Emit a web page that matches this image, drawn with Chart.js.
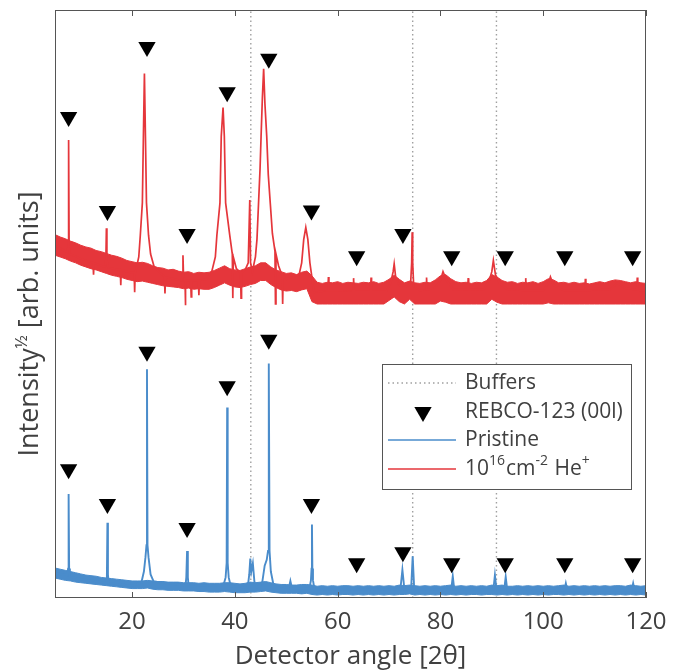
<!DOCTYPE html>
<html>
<head>
<meta charset="utf-8">
<script src="https://cdn.jsdelivr.net/npm/chart.js@4.4.0/dist/chart.umd.min.js"></script>
<style>
  html, body { margin: 0; padding: 0; background: #fff; }
</style>
</head>
<body>
<canvas id="xrd" width="678" height="672"></canvas>
<script>
// x ticks shown on the axis
const xTicks = [20, 40, 60, 80, 100, 120]

// buffer layer reflections (dotted lines)
const bufferAngles = [43.1, 74.6, 90.9]

// REBCO-123 (00l) markers: angle, height above irradiated trace, height above pristine trace
const rebcoAngles = [7.65, 15.2, 22.9, 30.7, 38.5, 46.6, 54.9, 63.7, 72.7, 82.2, 92.6, 104.2, 117.4]
const rebcoIrradiated = [81.8, 65.8, 93.7, 61.9, 86.0, 91.7, 65.9, 58.1, 61.9, 58.1, 58.1, 58.1, 58.1]
const rebcoPristine = [21.9, 16.0, 41.9, 11.9, 36.0, 43.9, 16.0, 5.9, 7.8, 5.9, 5.9, 5.9, 5.9]

// noise band grid (1 deg)
const noiseAngles = [
  5, 6, 7, 8, 9, 10, 11, 12, 13, 14,
  15, 16, 17, 18, 19, 20, 21, 22, 23, 24,
  25, 26, 27, 28, 29, 30, 31, 32, 33, 34,
  35, 36, 37, 38, 39, 40, 41, 42, 43, 44,
  45, 46, 47, 48, 49, 50, 51, 52, 53, 54,
  55, 56, 57, 58, 59, 60, 61, 62, 63, 64,
  65, 66, 67, 68, 69, 70, 71, 72, 73, 74,
  75, 76, 77, 78, 79, 80, 81, 82, 83, 84,
  85, 86, 87, 88, 89, 90, 91, 92, 93, 94,
  95, 96, 97, 98, 99, 100, 101, 102, 103, 104,
  105, 106, 107, 108, 109, 110, 111, 112, 113, 114,
  115, 116, 117, 118, 119, 120
]

// 10^16 cm^-2 He+ : upper / lower edge of the noise band
const irradiatedHigh = [
  61.8, 61.4, 61.1, 60.7, 60.4, 60.0, 59.7, 59.5, 59.1, 58.9,
  58.6, 58.3, 58.1, 57.8, 57.4, 57.2, 57.0, 57.1, 56.9, 56.5,
  56.2, 56.1, 55.8, 55.9, 55.6, 55.4, 55.5, 55.2, 55.4, 55.3,
  55.4, 55.7, 56.1, 56.5, 56.0, 55.8, 55.7, 56.0, 56.3, 56.5,
  57.0, 57.0, 56.3, 55.8, 55.5, 55.2, 55.3, 55.0, 55.4, 55.6,
  54.8, 53.7, 53.5, 53.7, 53.6, 53.8, 53.5, 53.7, 53.6, 53.5,
  53.7, 53.6, 53.8, 53.5, 53.7, 54.2, 54.9, 54.2, 53.6, 53.9,
  53.6, 53.5, 53.7, 53.6, 54.1, 54.8, 55.0, 54.3, 53.8, 53.6,
  53.7, 53.5, 53.7, 53.6, 54.0, 55.0, 54.6, 54.0, 53.7, 53.8,
  53.5, 53.7, 53.6, 53.8, 53.5, 53.8, 54.3, 54.1, 53.6, 53.7,
  53.5, 53.7, 53.5, 53.6, 53.4, 53.6, 53.8, 53.6, 53.9, 54.1,
  54.0, 53.8, 53.6, 53.8, 53.6, 53.5
]
const irradiatedLow = [
  58.3, 58.0, 57.7, 57.3, 57.0, 56.6, 56.3, 56.0, 55.8, 55.5,
  55.2, 54.9, 54.7, 54.5, 54.2, 54.0, 53.8, 53.9, 53.7, 53.5,
  53.3, 53.1, 53.0, 52.9, 52.8, 52.6, 52.7, 52.5, 52.6, 52.5,
  52.5, 52.8, 53.2, 53.6, 53.2, 52.9, 52.8, 53.0, 53.3, 53.5,
  54.0, 54.0, 53.3, 52.8, 52.4, 52.2, 52.3, 52.1, 52.4, 52.6,
  50.4, 50.0, 50.0, 50.0, 50.0, 50.0, 50.0, 50.0, 50.0, 50.0,
  50.0, 50.0, 50.0, 50.0, 50.0, 50.6, 51.2, 50.4, 50.0, 50.8,
  50.0, 50.0, 50.0, 50.0, 50.0, 50.5, 50.3, 50.0, 50.0, 50.0,
  50.0, 50.0, 50.0, 50.0, 50.0, 50.8, 50.3, 50.0, 50.0, 50.0,
  50.0, 50.0, 50.0, 50.0, 50.0, 50.0, 50.2, 50.0, 50.0, 50.0,
  50.0, 50.0, 50.0, 50.0, 50.0, 50.0, 50.0, 50.0, 50.0, 50.0,
  50.0, 50.0, 50.0, 50.0, 50.0, 50.0
]

// pristine : upper / lower edge of the noise band
const pristineHigh = [
  5.1, 4.9, 4.7, 4.5, 4.3, 4.1, 3.9, 3.8, 3.7, 3.5,
  3.4, 3.3, 3.2, 3.1, 3.0, 2.9, 2.9, 2.9, 3.0, 2.9,
  2.8, 2.8, 2.7, 2.7, 2.7, 2.6, 2.6, 2.6, 2.5, 2.6,
  2.5, 2.5, 2.5, 2.6, 2.6, 2.5, 2.4, 2.5, 2.7, 2.6,
  2.7, 2.8, 2.6, 2.4, 2.3, 2.3, 2.2, 2.2, 2.3, 2.3,
  2.2, 2.0, 2.1, 2.0, 2.1, 2.0, 2.1, 2.1, 2.0, 2.1,
  2.0, 2.1, 2.0, 2.1, 2.0, 2.1, 2.0, 2.2, 2.1, 2.2,
  2.1, 2.0, 2.1, 2.0, 2.1, 2.0, 2.1, 2.2, 2.0, 2.1,
  2.0, 2.1, 2.0, 2.1, 2.0, 2.2, 2.1, 2.2, 2.0, 2.0,
  2.1, 2.0, 2.1, 2.0, 2.1, 2.0, 2.1, 2.0, 2.1, 2.2,
  2.0, 2.1, 2.0, 2.1, 2.0, 2.1, 2.0, 2.1, 2.0, 2.1,
  2.1, 2.0, 2.2, 2.1, 2.0, 2.1
]
const pristineLow = [
  3.4, 3.2, 3.0, 2.9, 2.7, 2.6, 2.5, 2.4, 2.3, 2.2,
  2.1, 2.0, 1.9, 1.8, 1.7, 1.6, 1.6, 1.6, 1.7, 1.5,
  1.4, 1.4, 1.3, 1.3, 1.3, 1.2, 1.2, 1.2, 1.1, 1.1,
  1.0, 1.0, 1.0, 1.1, 1.0, 0.9, 0.9, 0.9, 1.0, 1.0,
  1.1, 1.2, 1.0, 0.9, 0.8, 0.8, 0.8, 0.8, 0.7, 0.8,
  0.6, 0.5, 0.6, 0.5, 0.6, 0.5, 0.6, 0.6, 0.5, 0.6,
  0.5, 0.6, 0.5, 0.6, 0.5, 0.6, 0.5, 0.6, 0.6, 0.7,
  0.5, 0.6, 0.5, 0.6, 0.5, 0.6, 0.5, 0.6, 0.5, 0.6,
  0.5, 0.6, 0.6, 0.5, 0.6, 0.6, 0.5, 0.6, 0.5, 0.6,
  0.5, 0.6, 0.5, 0.6, 0.5, 0.6, 0.5, 0.6, 0.6, 0.5,
  0.6, 0.5, 0.6, 0.5, 0.6, 0.5, 0.6, 0.5, 0.6, 0.5,
  0.6, 0.5, 0.6, 0.5, 0.6, 0.5
]

// centre line with the diffraction peaks [2θ, intensity^1/2]
const irradiatedTrace = [
  [5, 60.0], [7.4, 58.8], [7.55, 60.0], [7.65, 77.9], [7.75, 59.5], [7.9, 58.5],
  [10, 57.7], [12.4, 57.0], [12.5, 55.0], [12.6, 57.0],
  [14.7, 56.3], [14.9, 57.5], [15.0, 62.9], [15.1, 57.5], [15.3, 56.2],
  [17.7, 55.8], [17.8, 53.2], [17.9, 55.8], [19, 55.5], [20.4, 55.3], [20.5, 52.0], [20.6, 55.3],
  [20.8, 56.0], [21.3, 58.0], [21.6, 61.7], [22.0, 67.2], [22.2, 78.5], [22.4, 89.2],
  [22.6, 78.5], [22.8, 67.2], [23.2, 61.7], [23.6, 58.5], [24.3, 56.3],
  [26.3, 54.6], [26.4, 51.8], [26.5, 54.6],
  [29.6, 54.0], [29.8, 55.0], [29.9, 58.3], [30.0, 55.0], [30.2, 54.0],
  [30.3, 54.0], [30.35, 49.8], [30.45, 54.0], [31.4, 54.0], [31.5, 51.2], [31.6, 54.0],
  [32.9, 54.0], [33.0, 51.5], [33.1, 54.0], [34.5, 54.2],
  [35.5, 55.5], [36.2, 58.0], [36.5, 61.7], [37.1, 67.2], [37.35, 78.5], [37.7, 83.4],
  [37.95, 78.5], [38.2, 67.2], [39.0, 61.7], [39.5, 58.5], [39.6, 51.0], [39.7, 58.0],
  [40.3, 56.0], [41.1, 55.3], [41.2, 51.0], [41.3, 55.3], [42, 55.8], [42.6, 57.0], [42.9, 67.7],
  [43.05, 57.0], [43.4, 55.5], [44.0, 58.0], [44.3, 61.0], [44.6, 67.0], [44.9, 73.0],
  [45.1, 78.5], [45.35, 85.0], [45.6, 90.0], [45.85, 84.0], [46.2, 78.5], [46.5, 72.0],
  [46.9, 67.0], [47.3, 62.0], [47.8, 59.0], [47.9, 50.0], [48.0, 58.5], [48.5, 56.5],
  [49.2, 54.8], [49.3, 50.0], [49.4, 54.8], [50, 54.2], [52.5, 55.0],
  [53.0, 57.0], [53.4, 61.0], [53.8, 63.0], [54.2, 61.0], [54.6, 57.0], [55.0, 54.5],
  [55.4, 52.0], [58.1, 52.3], [58.2, 54.6], [58.3, 52.3], [63.0, 52.2], [63.1, 54.4], [63.2, 52.2],
  [66.4, 52.2], [66.5, 54.5], [66.6, 52.2], [69.5, 52.2], [70.3, 53.5], [70.8, 55.5], [71.0, 56.8],
  [71.3, 54.5], [72, 53.2], [73.5, 53.0], [74.2, 53.5], [74.4, 57.0], [74.5, 62.2],
  [74.6, 57.0], [74.8, 53.0], [76, 52.3], [77.2, 52.4], [77.3, 54.5], [77.4, 52.4],
  [79, 52.8], [80, 54.0], [80.5, 55.5], [81.2, 54.0], [82.5, 52.5],
  [85.3, 52.4], [85.4, 54.4], [85.5, 52.4], [88.5, 52.5], [89.5, 54.0], [90.0, 55.5], [90.3, 57.4],
  [90.7, 55.0], [91.5, 53.5], [93, 52.5], [96.5, 52.3], [96.6, 54.4], [96.7, 52.3],
  [100, 52.3], [101.0, 53.5], [101.4, 54.6], [102, 53.2], [104, 52.3],
  [108.1, 52.3], [108.2, 54.3], [108.3, 52.3], [113, 52.5], [114.4, 53.5], [116, 52.7],
  [118.2, 52.4], [118.3, 54.5], [118.4, 52.4], [120, 52.2]
]

const pristineTrace = [
  [5, 4.2], [7.4, 3.9], [7.55, 5.0], [7.65, 17.7], [7.75, 5.0], [7.9, 3.6],
  [10, 3.2], [15.0, 2.6], [15.1, 4.0], [15.2, 12.8], [15.3, 4.0], [15.45, 2.5],
  [20, 2.1], [21.8, 2.6], [22.3, 4.5], [22.6, 6.9], [22.8, 9.0], [22.9, 38.9],
  [23.0, 9.0], [23.2, 6.9], [23.6, 4.0], [24.2, 2.8], [30.4, 2.1], [30.55, 3.5],
  [30.7, 8.0], [30.85, 3.5], [31, 2.0], [37.8, 2.2], [38.2, 3.5], [38.4, 6.0],
  [38.5, 32.4], [38.6, 6.0], [38.8, 3.5], [39.2, 2.0], [42.5, 1.8], [42.8, 4.0],
  [43.0, 6.7], [43.2, 4.5], [43.5, 5.9], [43.8, 2.8], [44.3, 1.8], [45.3, 2.5],
  [45.8, 5.5], [46.2, 6.5], [46.45, 8.0], [46.6, 39.9], [46.75, 8.0], [47.0, 4.5],
  [47.5, 2.3], [50.5, 1.7], [50.8, 2.9], [51.1, 1.7], [54.5, 1.6], [54.8, 3.0],
  [54.92, 5.0], [55.0, 12.5], [55.08, 5.0], [55.2, 3.0], [55.5, 1.5], [72.2, 1.4],
  [72.6, 4.8], [73.0, 1.4], [74.3, 1.6], [74.6, 7.1], [74.9, 1.5], [82.1, 1.4],
  [82.4, 3.7], [82.7, 1.4], [90.3, 1.4], [90.6, 3.9], [90.9, 1.5], [92.4, 1.4],
  [92.7, 3.6], [93.0, 1.4], [104.1, 1.3], [104.4, 2.5], [104.7, 1.3], [117.2, 1.3],
  [117.5, 2.5], [117.8, 1.3], [120, 1.3]
]

const RED = '#e5363b'
const BLUE = '#4a8ccb'
const TEXT = '#404040'
const FONT = "'Open Sans', sans-serif"

const zip = (xs, ys) => xs.map((x, i) => ({ x, y: ys[i] }))
const pairs = arr => arr.map(([x, y]) => ({ x, y }))

function lineSet(data, color, width, extra) {
  return Object.assign({
    data,
    borderColor: color,
    backgroundColor: color,
    borderWidth: width,
    pointRadius: 0,
    tension: 0,
    fill: false
  }, extra || {})
}

const markerSet = data => ({
  data,
  showLine: false,
  pointStyle: 'triangle',
  rotation: 180,
  pointRadius: 10,
  pointBackgroundColor: '#000',
  pointBorderWidth: 0,
  borderWidth: 0
})

// index 0 is drawn on top
const datasets = [
  markerSet(zip(rebcoAngles, rebcoIrradiated)),
  markerSet(zip(rebcoAngles, rebcoPristine)),
  lineSet(pairs(irradiatedTrace), RED, 1.7),
  lineSet(pairs(pristineTrace), BLUE, 1.9),
  lineSet(zip(noiseAngles, irradiatedHigh), RED, 1, { fill: 5 }),
  lineSet(zip(noiseAngles, irradiatedLow), RED, 1),
  lineSet(zip(noiseAngles, pristineHigh), BLUE, 1, { fill: 7 }),
  lineSet(zip(noiseAngles, pristineLow), BLUE, 1)
]
bufferAngles.forEach(a => {
  datasets.push(lineSet([{ x: a, y: 0 }, { x: a, y: 100 }], '#a0a0a0', 1.4, { borderDash: [1.5, 3] }))
})

// frame, inward tick marks, y title and the legend box
const decorations = {
  id: 'decorations',
  afterDraw(chart) {
    const { ctx, chartArea: a } = chart
    const xs = chart.scales.x
    ctx.save()

    ctx.strokeStyle = '#555'
    ctx.lineWidth = 1
    ctx.strokeRect(a.left + 0.5, a.top + 0.5, a.right - a.left - 1, a.bottom - a.top - 1)
    ctx.beginPath()
    xTicks.forEach(v => {
      const px = Math.round(xs.getPixelForValue(v)) + 0.5
      ctx.moveTo(px, a.top); ctx.lineTo(px, a.top + 6)
      ctx.moveTo(px, a.bottom); ctx.lineTo(px, a.bottom - 6)
    })
    ctx.stroke()

    // y axis title with superscript 1/2
    ctx.save()
    ctx.translate(30, 324)
    ctx.rotate(-Math.PI / 2)
    ctx.fillStyle = TEXT
    ctx.textBaseline = 'middle'
    const big = '27px ' + FONT, small = '17px ' + FONT
    ctx.font = big
    const w1 = ctx.measureText('Intensity').width
    const w3 = ctx.measureText(' [arb. units]').width
    ctx.font = small
    const w2 = ctx.measureText('½').width
    let cx = -(w1 + w2 + w3) / 2
    ctx.font = big
    ctx.fillText('Intensity', cx, 0); cx += w1
    ctx.font = small
    ctx.fillText('½', cx, -8); cx += w2
    ctx.font = big
    ctx.fillText(' [arb. units]', cx, 0)
    ctx.restore()

    // legend
    const bx = 382, by = 364, bw = 249, bh = 125
    ctx.fillStyle = '#fff'
    ctx.fillRect(bx, by, bw, bh)
    ctx.strokeStyle = '#555'
    ctx.strokeRect(bx + 0.5, by + 0.5, bw, bh)
    const rows = [383, 412, 440, 469]
    const lx0 = 388, lx1 = 456, tx = 465

    ctx.lineWidth = 1.4
    ctx.strokeStyle = '#a0a0a0'
    ctx.setLineDash([1.5, 3])
    ctx.beginPath(); ctx.moveTo(lx0, rows[0]); ctx.lineTo(lx1, rows[0]); ctx.stroke()
    ctx.setLineDash([])

    ctx.fillStyle = '#000'
    const r = 10, tcx = 423, tcy = rows[1]
    ctx.beginPath()
    ctx.moveTo(tcx - r * 0.866, tcy - r / 2)
    ctx.lineTo(tcx + r * 0.866, tcy - r / 2)
    ctx.lineTo(tcx, tcy + r)
    ctx.closePath(); ctx.fill()

    ctx.lineWidth = 1.6
    ctx.strokeStyle = BLUE
    ctx.beginPath(); ctx.moveTo(lx0, rows[2]); ctx.lineTo(lx1, rows[2]); ctx.stroke()
    ctx.strokeStyle = RED
    ctx.beginPath(); ctx.moveTo(lx0, rows[3]); ctx.lineTo(lx1, rows[3]); ctx.stroke()

    ctx.fillStyle = TEXT
    ctx.textBaseline = 'middle'
    const lf = '21px ' + FONT, sf = '14px ' + FONT
    ctx.font = lf
    ctx.fillText('Buffers', tx, rows[0])
    ctx.fillText('REBCO-123 (00l)', tx, rows[1])
    ctx.fillText('Pristine', tx, rows[2])
    // 10^16 cm^-2 He^+
    const parts = [['10', false], ['16', true], ['cm', false], ['-2', true], [' He', false], ['+', true]]
    let px = tx
    parts.forEach(([t, sup]) => {
      ctx.font = sup ? sf : lf
      ctx.fillText(t, px, sup ? rows[3] - 8 : rows[3])
      px += ctx.measureText(t).width + (sup ? 1 : 0)
    })
    ctx.restore()
  }
}

new Chart(document.getElementById('xrd'), {
  type: 'line',
  data: { datasets },
  options: {
    responsive: false,
    animation: false,
    events: [],
    layout: { padding: { left: 55, right: 32, top: 6, bottom: 0 } },
    plugins: {
      legend: { display: false },
      tooltip: { enabled: false }
    },
    scales: {
      x: {
        type: 'linear',
        min: 5,
        max: 120,
        grid: { display: false, drawTicks: false },
        border: { display: false },
        ticks: {
          stepSize: 20,
          includeBounds: false,
          maxRotation: 0,
          padding: 10,
          color: TEXT,
          font: { family: FONT, size: 24 }
        },
        title: {
          display: true,
          text: 'Detector angle [2θ]',
          color: TEXT,
          font: { family: FONT, size: 26 },
          padding: { top: 0, bottom: 0 }
        },
        afterFit(scale) { scale.height = 74 }
      },
      y: {
        display: false,
        min: 0,
        max: 100
      }
    }
  },
  plugins: [decorations]
})
</script>
</body>
</html>
